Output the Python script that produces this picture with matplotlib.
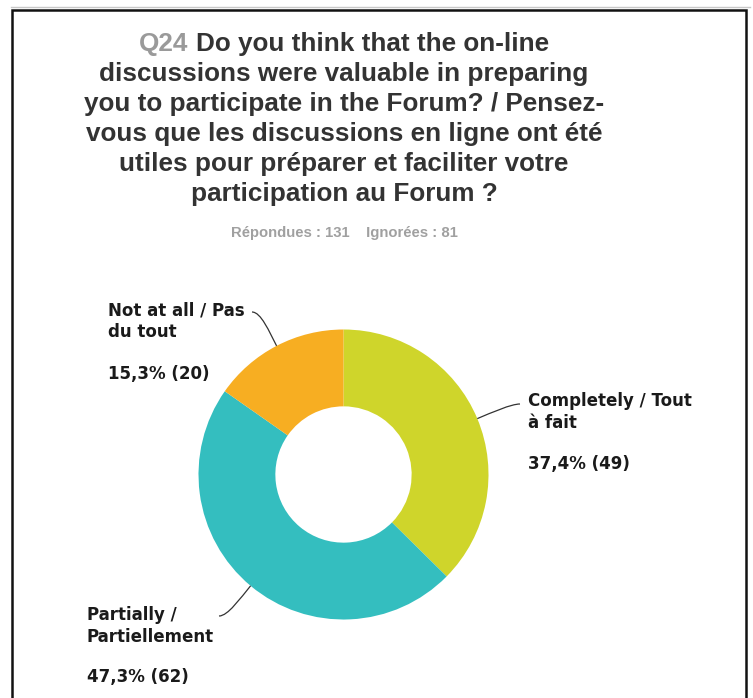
"""Donut chart for survey question Q24 (online discussions before the Forum)."""

import matplotlib
matplotlib.use("Agg")
import matplotlib.pyplot as plt
import numpy as np
from matplotlib.path import Path
from matplotlib.patches import PathPatch

W, H = 753, 698

# Survey data
categories = ["Completely / Tout\nà fait", "Partially /\nPartiellement", "Not at all / Pas\ndu tout"]
counts = [49, 62, 20]
percents = [37.4, 47.3, 15.3]
colors = ["#CFD52B", "#34BEBF", "#F7AE22"]
answered, skipped = 131, 81

title_lines = [
    "Q24 Do you think that the on-line",
    "discussions were valuable in preparing",
    "you to participate in the Forum? / Pensez-",
    "vous que les discussions en ligne ont été",
    "utiles pour préparer et faciliter votre",
    "participation au Forum ?",
]

# Layout in image pixels (y measured from the top)
CX, CY, R = 343.5, 474.5, 145
HOLE = 0.47
label_x = [528, 87, 108]
name_base = [428, 642, 337]      # baseline of the last name line
pct_base = [469, 682, 379]
leader_end = [(520, 404), (219, 616), (252, 312)]


def Y(y):
    return H - y


fig = plt.figure(figsize=(W / 100, H / 100), dpi=100)
ax = fig.add_axes([0, 0, 1, 1])
ax.set_xlim(0, W)
ax.set_ylim(0, H)
ax.axis("off")

wedges, _ = ax.pie(counts, colors=colors, startangle=90, counterclock=False,
                   radius=R, center=(CX, Y(CY)),
                   wedgeprops=dict(width=R * (1 - HOLE), linewidth=0))
ax.set_xlim(0, W)
ax.set_ylim(0, H)
ax.set_aspect("equal")

# Labels with curved leader lines
label_kw = dict(ha="left", va="baseline", fontsize=12, fontweight="bold",
                family="DejaVu Sans", color="#1a1a1a")
for i, (w, name, pct, n) in enumerate(zip(wedges, categories, percents, counts)):
    ax.text(label_x[i], Y(name_base[i]), name, linespacing=1.25, **label_kw)
    ax.text(label_x[i], Y(pct_base[i]), f"{pct:.1f}".replace(".", ",") + f"% ({n})",
            **label_kw)
    mid = np.deg2rad((w.theta1 + w.theta2) / 2)
    d = np.array([np.cos(mid), np.sin(mid)])
    p0 = np.array(w.center) + R * d
    p1 = p0 + 16 * d
    ex, ey = leader_end[i]
    p3 = np.array([ex, Y(ey)])
    p2 = p3 + np.array([np.sign(p0[0] - p3[0]) * 9, 0])
    path = Path([p0, p1, p2, p3], [Path.MOVETO, Path.CURVE4, Path.CURVE4, Path.CURVE4])
    ax.add_patch(PathPatch(path, fc="none", ec="#333333", lw=0.9))

# Title
fig.canvas.draw()
renderer = fig.canvas.get_renderer()
title_kw = dict(fontsize=18.8, fontweight="bold", family="Liberation Sans")
for i, line in enumerate(title_lines):
    yb = Y(51 + 30 * i)
    if i == 0:
        full = ax.text(344, yb, line, ha="center", va="baseline", alpha=0, **title_kw)
        bb = full.get_window_extent(renderer)
        x0, x1 = bb.x0 * W / fig.bbox.width, bb.x1 * W / fig.bbox.width
        head, rest = line.split(" ", 1)
        ax.text(x0, yb, head, ha="left", va="baseline", color="#9a9a9a", **title_kw)
        ax.text(x1, yb, rest, ha="right", va="baseline", color="#333333", **title_kw)
    else:
        ax.text(344, yb, line, ha="center", va="baseline", color="#333333", **title_kw)

ax.text(344, Y(237), f"Répondues : {answered}    Ignorées : {skipped}", ha="center",
        va="baseline", fontsize=10.7, fontweight="bold", family="Liberation Sans",
        color="#a0a0a0")

# Page frame
ax.plot([11, 750], [Y(7), Y(7)], color="#c8c8c8", lw=1)
ax.plot([12, 12, 746, 746], [0, Y(10), Y(10), 0], color="#111111", lw=1.8,
        solid_joinstyle="miter")

fig.savefig("out.png", dpi=100)
